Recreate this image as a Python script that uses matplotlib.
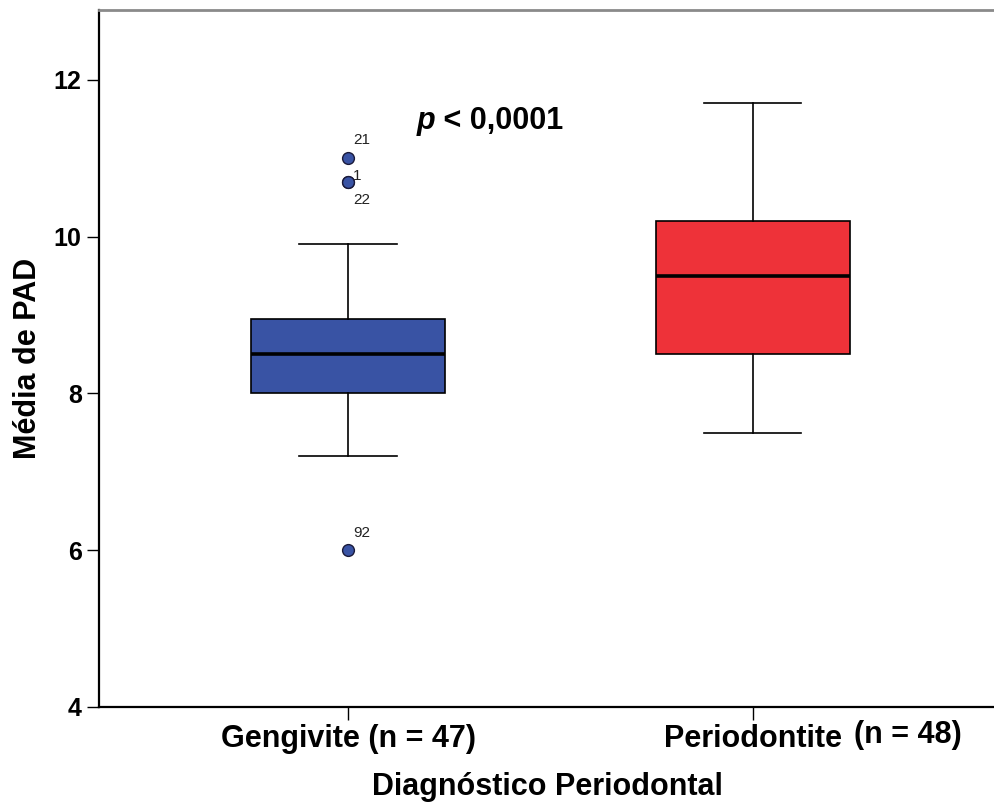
import matplotlib
matplotlib.use("Agg")
import matplotlib.pyplot as plt

plt.rcParams['font.family'] = ['Liberation Sans', 'DejaVu Sans']

# box statistics
groups = ["Gengivite (n = 47)", "Periodontite"]
q1 = [8.0, 8.5]
med = [8.5, 9.5]
q3 = [8.95, 10.2]
whislo = [7.2, 7.5]
whishi = [9.9, 11.7]
fliers = [[11.0, 10.7, 10.7, 6.0], []]
flier_ids = ["21", "1", "22", "92"]
flier_lbl_y = [11.23, 10.77, 10.47, 6.22]
colors = ["#3953a4", "#ee3239"]

stats = []
for i in range(len(groups)):
    stats.append(dict(label=groups[i], q1=q1[i], med=med[i], q3=q3[i],
                      whislo=whislo[i], whishi=whishi[i], fliers=fliers[i]))

fig = plt.figure(figsize=(9.95, 8.02), dpi=100)
ax = fig.add_axes([0.0995, 0.1185, 0.9005, 0.869])

bp = ax.bxp(stats, positions=[1, 2], widths=0.48, patch_artist=True,
            boxprops=dict(edgecolor='black', linewidth=1.2),
            medianprops=dict(color='black', linewidth=2.6),
            whiskerprops=dict(color='black', linewidth=1.2),
            capprops=dict(color='black', linewidth=1.2),
            flierprops=dict(marker='o', markersize=8.5, markerfacecolor=colors[0],
                            markeredgecolor='#1a1a3a', markeredgewidth=1.0))
for patch, c in zip(bp['boxes'], colors):
    patch.set_facecolor(c)

for lbl, yv in zip(flier_ids, flier_lbl_y):
    ax.text(1.013, yv, lbl, fontsize=11, va='center', ha='left', color='#222222')

t = ax.text(1.17, 11.47, "p", fontsize=22, fontweight='bold', fontstyle='italic',
            va='center', ha='left')
ax.annotate(" < 0,0001", xy=(1, 0), xycoords=t, va='bottom', ha='left',
            fontsize=22, fontweight='bold')

ax.text(2.25, 3.64, "(n = 48)", fontsize=22, fontweight='bold', va='center',
        ha='left', clip_on=False)

ax.set_xlim(0.385, 2.598)
ax.set_ylim(4, 12.89)
ax.set_yticks([4, 6, 8, 10, 12])
ax.tick_params(axis='both', length=9, width=1.0, labelsize=18)
for lab in ax.get_xticklabels():
    lab.set_fontweight('bold')
    lab.set_fontsize(22)
for lab in ax.get_yticklabels():
    lab.set_fontweight('bold')

ax.set_ylabel("Média de PAD", fontsize=22, fontweight='bold', labelpad=8)
ax.set_xlabel("Diagnóstico Periodontal", fontsize=22, fontweight='bold', labelpad=13)

ax.spines['right'].set_visible(False)
ax.spines['top'].set_color('#8a8a8a')
ax.spines['top'].set_linewidth(2)
ax.spines['left'].set_linewidth(1.6)
ax.spines['bottom'].set_linewidth(1.6)

fig.savefig("out.png", dpi=100)
